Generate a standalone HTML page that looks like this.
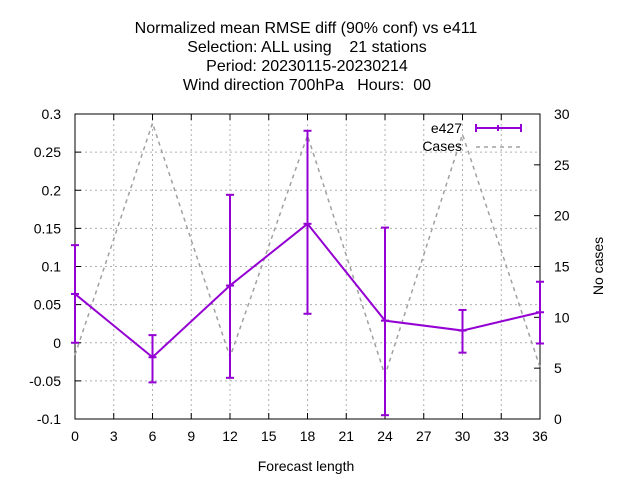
<!DOCTYPE html>
<html><head><meta charset="utf-8"><style>
body{margin:0;background:#fff}
svg{display:block;font-family:"Liberation Sans",sans-serif;font-size:14px}
</style></head><body>
<svg id="c" width="640" height="480">
<g text-anchor="middle" fill="#000" style="white-space:pre;font-size:16px">
<text x="306" y="33" xml:space="preserve">Normalized mean RMSE diff (90% conf) vs e411</text>
<text x="307" y="52" xml:space="preserve">Selection: ALL using    21 stations</text>
<text x="307" y="71" xml:space="preserve">Period: 20230115-20230214</text>
<text x="307" y="90" xml:space="preserve">Wind direction 700hPa   Hours:  00</text>
</g>
<g id="grid"></g>
<g id="axes"></g>
<g id="series"></g>
<text x="306" y="471" text-anchor="middle">Forecast length</text>
<text transform="translate(603,266) rotate(-90)" text-anchor="middle">No cases</text>
<g>
<text x="462" y="133" text-anchor="end">e427</text>
<line x1="476" y1="128" x2="521" y2="128" stroke="#9400d3" stroke-width="2"/>
<line x1="476" y1="124" x2="476" y2="132" stroke="#9400d3" stroke-width="2"/>
<line x1="521" y1="124" x2="521" y2="132" stroke="#9400d3" stroke-width="2"/>
<line x1="498" y1="125" x2="498" y2="131" stroke="#9400d3" stroke-width="2"/>
<text x="462" y="151" text-anchor="end">Cases</text>
<line x1="476" y1="147" x2="521" y2="147" stroke="#a0a0a0" stroke-width="1.5" stroke-dasharray="4,4"/>
</g>
</svg>
<script>
const xs=[0,6,12,18,24,30,36];
const vals=[0.064,-0.019,0.075,0.156,0.029,0.016,0.040];
const errHi=[0.128,0.010,0.194,0.278,0.151,0.043,0.080];
const errLo=[0.000,-0.052,-0.046,0.038,-0.095,-0.013,-0.001];
const cases=[6.3,29.1,6.1,27.9,4.3,28.0,5.1];
const xTicks=[0,3,6,9,12,15,18,21,24,27,30,33,36];
const yTicks=[-0.1,-0.05,0,0.05,0.1,0.15,0.2,0.25,0.3];
const y2Ticks=[0,5,10,15,20,25,30];
const L=75,R=540,T=114,B=419;
const X=v=>L+(v-0)/36*(R-L);
const Y=v=>B-(v+0.1)/0.4*(B-T);
const Y2=v=>B-v/30*(B-T);
const NS='http://www.w3.org/2000/svg';
function mk(p,t,a){const e=document.createElementNS(NS,t);for(const k in a)e.setAttribute(k,a[k]);p.appendChild(e);return e;}
const g=document.getElementById('grid'),ax=document.getElementById('axes'),s=document.getElementById('series');
xTicks.forEach(t=>{const x=X(t);
 if(t>0&&t<36){const l=mk(g,'line',{x1:x,y1:T,x2:x,y2:B,stroke:'#b0b0b0','stroke-dasharray':'2,3'});}
 mk(ax,'line',{x1:x,y1:B,x2:x,y2:B-6,stroke:'#000'});mk(ax,'line',{x1:x,y1:T,x2:x,y2:T+6,stroke:'#000'});
 const tx=mk(ax,'text',{x:x,y:B+22,'text-anchor':'middle'});tx.textContent=t;
 });
yTicks.forEach(t=>{const y=Y(t);
 if(t>-0.1&&t<0.3){const l=mk(g,'line',{x1:L,y1:y,x2:R,y2:y,stroke:'#b0b0b0','stroke-dasharray':'2,3'});}
 mk(ax,'line',{x1:L,y1:y,x2:L+6,y2:y,stroke:'#000'});
 const tx=mk(ax,'text',{x:L-14,y:y+5,'text-anchor':'end'});tx.textContent=String(t);
 });
y2Ticks.forEach(t=>{const y=Y2(t);
 mk(ax,'line',{x1:R,y1:y,x2:R-6,y2:y,stroke:'#000'});
 const tx=mk(ax,'text',{x:R+14,y:y+5,'text-anchor':'start'});tx.textContent=t;
 });
const fr=mk(ax,'rect',{x:L,y:T,width:R-L,height:B-T,fill:'none',stroke:'#000'});

const cl=mk(s,'polyline',{points:xs.map((x,i)=>X(x)+','+Y2(cases[i])).join(' '),fill:'none',stroke:'#a0a0a0','stroke-width':1.5,'stroke-dasharray':'4,4'});

const el=mk(s,'polyline',{points:xs.map((x,i)=>X(x)+','+Y(vals[i])).join(' '),fill:'none',stroke:'#9400d3','stroke-width':2});

xs.forEach((x,i)=>{const px=X(x);
 const eb=mk(s,'g',{stroke:'#9400d3','stroke-width':2});
 
 mk(eb,'line',{x1:px,y1:Y(errHi[i]),x2:px,y2:Y(errLo[i])});
 mk(eb,'line',{x1:px-4,y1:Y(errHi[i]),x2:px+4,y2:Y(errHi[i])});
 mk(eb,'line',{x1:px-4,y1:Y(errLo[i]),x2:px+4,y2:Y(errLo[i])});
 mk(eb,'line',{x1:px-4,y1:Y(vals[i]),x2:px+4,y2:Y(vals[i])});
});
</script>
</body></html>
